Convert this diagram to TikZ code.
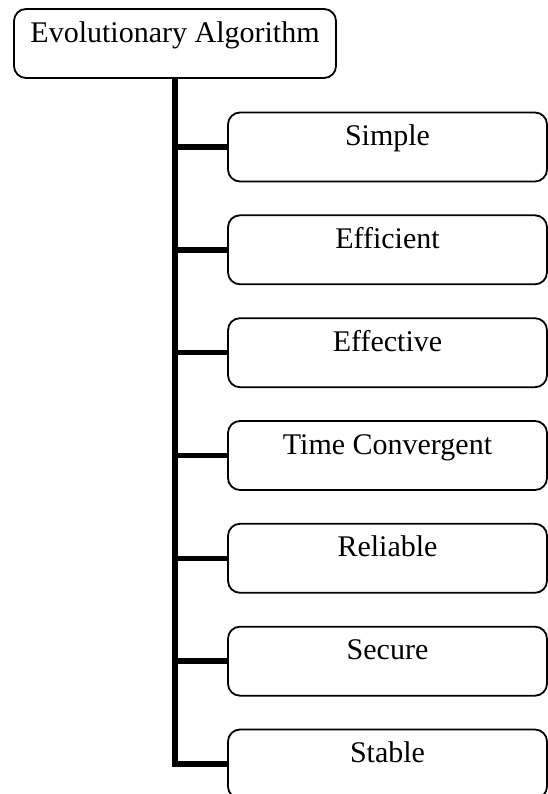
\documentclass[tikz,border=0pt]{standalone}
\usepackage{fontspec}
\setmainfont{Liberation Serif}
\usetikzlibrary{positioning}

\begin{document}
\begin{tikzpicture}[x=1pt, y=-1pt,
		rootbox/.style={draw, line width=1.8pt, rounded corners=12pt, inner sep=0pt,
			minimum width=322pt, text height=34pt, text depth=35pt,
			font=\fontsize{30}{35}\selectfont},
		leafbox/.style={draw, line width=1.8pt, rounded corners=12pt, inner sep=0pt,
			minimum width=319pt, text height=33pt, text depth=36pt,
			font=\fontsize{30}{35}\selectfont},
		branch/.style={line width=5.5pt, line join=miter}
	]
		\useasboundingbox (0,0) rectangle (548,794);
		
		\node[rootbox] (ea) at (175,43.5) {Evolutionary Algorithm};
		
		%properties
		\node[leafbox] (simple) at (387.5,147) {Simple};
		\node[leafbox] (efficient) at (387.5,249.8) {Efficient};
		\node[leafbox] (effective) at (387.5,352.7) {Effective};
		\node[leafbox] (timeconv) at (387.5,455.5) {Time Convergent};
		\node[leafbox] (reliable) at (387.5,558.3) {Reliable};
		\node[leafbox] (secure) at (387.5,661.2) {Secure};
		\node[leafbox] (stable) at (387.5,764) {Stable};
		
		%trunk
		\draw[branch] (ea.south) |- (stable.west);
		
		%branches
		\draw[branch] (ea.south |- simple.west) -- (simple.west);
		\draw[branch] (ea.south |- efficient.west) -- (efficient.west);
		\draw[branch] (ea.south |- effective.west) -- (effective.west);
		\draw[branch] (ea.south |- timeconv.west) -- (timeconv.west);
		\draw[branch] (ea.south |- reliable.west) -- (reliable.west);
		\draw[branch] (ea.south |- secure.west) -- (secure.west);
	\end{tikzpicture}
\end{document}
